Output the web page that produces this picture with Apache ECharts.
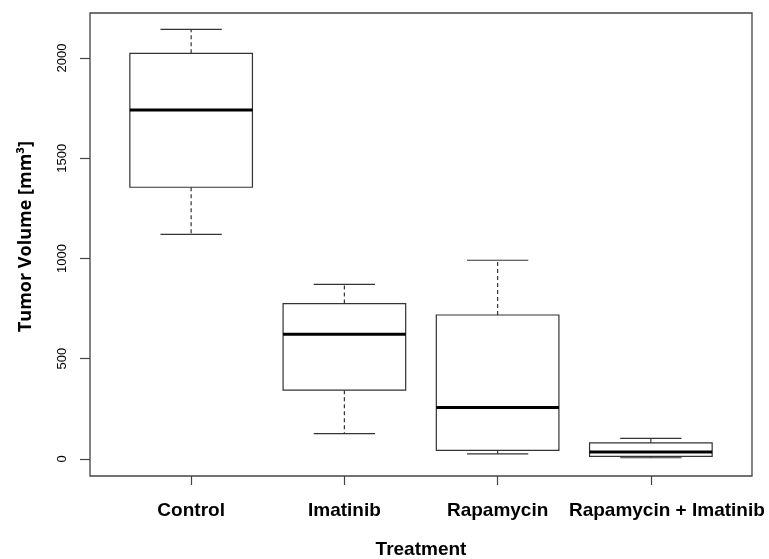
<!DOCTYPE html>
<html>
<head>
<meta charset="utf-8">
<script src="https://cdn.jsdelivr.net/npm/echarts@6/dist/echarts.min.js"></script>
<style>html,body{margin:0;padding:0;background:#fff;}#chart{width:769px;height:559px;}</style>
</head>
<body>
<div id="chart"></div>
<script>
const categories = ['Control', 'Imatinib', 'Rapamycin', 'Rapamycin + Imatinib'];
const positions = [1, 2, 3, 4];
const lowerWhisker = [1120, 126, 25, 6];
const q1 = [1355, 343, 43, 13];
const median = [1740, 622, 256, 35];
const q3 = [2023, 775, 718, 80];
const upperWhisker = [2142, 871, 991, 103];
const yTicks = [0, 500, 1000, 1500, 2000];

const data = positions.map((p, i) => [p, lowerWhisker[i], q1[i], median[i], q3[i], upperWhisker[i]]);

const lineColor = '#333333';

function renderItem(params, api) {
  const x = api.value(0);
  const pLo = api.coord([x, api.value(1)]);
  const pQ1 = api.coord([x, api.value(2)]);
  const pMed = api.coord([x, api.value(3)]);
  const pQ3 = api.coord([x, api.value(4)]);
  const pHi = api.coord([x, api.value(5)]);
  const bw = api.size([0.8, 0])[0];
  const half = bw / 2;
  const cap = bw / 4;
  const cx = pMed[0];
  const thin = { stroke: lineColor, lineWidth: 1.2, fill: null };
  const dashed = { stroke: lineColor, lineWidth: 1.2, lineDash: [4, 3], fill: null };
  return {
    type: 'group',
    children: [
      { type: 'line', shape: { x1: cx, y1: pQ3[1], x2: cx, y2: pHi[1] }, style: dashed },
      { type: 'line', shape: { x1: cx, y1: pQ1[1], x2: cx, y2: pLo[1] }, style: dashed },
      { type: 'line', shape: { x1: cx - cap, y1: pHi[1], x2: cx + cap, y2: pHi[1] }, style: thin },
      { type: 'line', shape: { x1: cx - cap, y1: pLo[1], x2: cx + cap, y2: pLo[1] }, style: thin },
      { type: 'rect', shape: { x: cx - half, y: pQ3[1], width: bw, height: pQ1[1] - pQ3[1] },
        style: { stroke: lineColor, lineWidth: 1.2, fill: '#ffffff' } },
      { type: 'line', shape: { x1: cx - half, y1: pMed[1], x2: cx + half, y2: pMed[1] },
        style: { stroke: '#000000', lineWidth: 3 } }
    ]
  };
}

const labelFont = { fontFamily: 'Liberation Sans', fontWeight: 'bold', fontSize: 19, color: '#000' };

const chart = echarts.init(document.getElementById('chart'), null, { renderer: 'canvas' });
chart.setOption({
  animation: false,
  backgroundColor: '#ffffff',
  grid: { left: 90, right: 17, top: 13, bottom: 83, outerBoundsMode: 'none', containLabel: false, show: true, borderColor: '#444444', borderWidth: 1.3, backgroundColor: 'transparent' },
  xAxis: {
    type: 'value',
    min: 0.34,
    max: 4.66,
    name: 'Treatment',
    nameLocation: 'middle',
    nameGap: 64,
    nameTextStyle: labelFont,
    axisLine: { show: false, onZero: false },
    splitLine: { show: false },
    axisTick: { show: true, customValues: positions, length: 9, lineStyle: { color: '#444', width: 1.2 } },
    axisLabel: {
      customValues: positions,
      formatter: v => {
        const i = Math.round(v) - 1;
        return i === 3 ? '{last|' + categories[i] + '}' : categories[i];
      },
      margin: 25,
      ...labelFont,
      rich: { last: { ...labelFont, padding: [0, 0, 0, 32] } }
    }
  },
  yAxis: {
    type: 'value',
    min: -85,
    max: 2224,
    name: 'Tumor Volume [mm³]',
    nameLocation: 'middle',
    nameRotate: 90,
    nameGap: 55,
    nameTextStyle: { fontFamily: 'Open Sans', fontWeight: 'bold', fontSize: 18, color: '#000', padding: [0, 0, 0, 16] },
    axisLine: { show: false, onZero: false },
    splitLine: { show: false },
    axisTick: { show: true, customValues: yTicks, length: 10, lineStyle: { color: '#444', width: 1.2 } },
    axisLabel: {
      customValues: yTicks,
      formatter: v => String(v),
      rotate: 90,
      margin: 21,
      fontFamily: 'Liberation Sans', fontSize: 13, color: '#000'
    }
  },
  series: [{
    type: 'custom',
    renderItem: renderItem,
    data: data,
    encode: { x: 0, y: [1, 2, 3, 4, 5] }
  }]
});
</script>
</body>
</html>
